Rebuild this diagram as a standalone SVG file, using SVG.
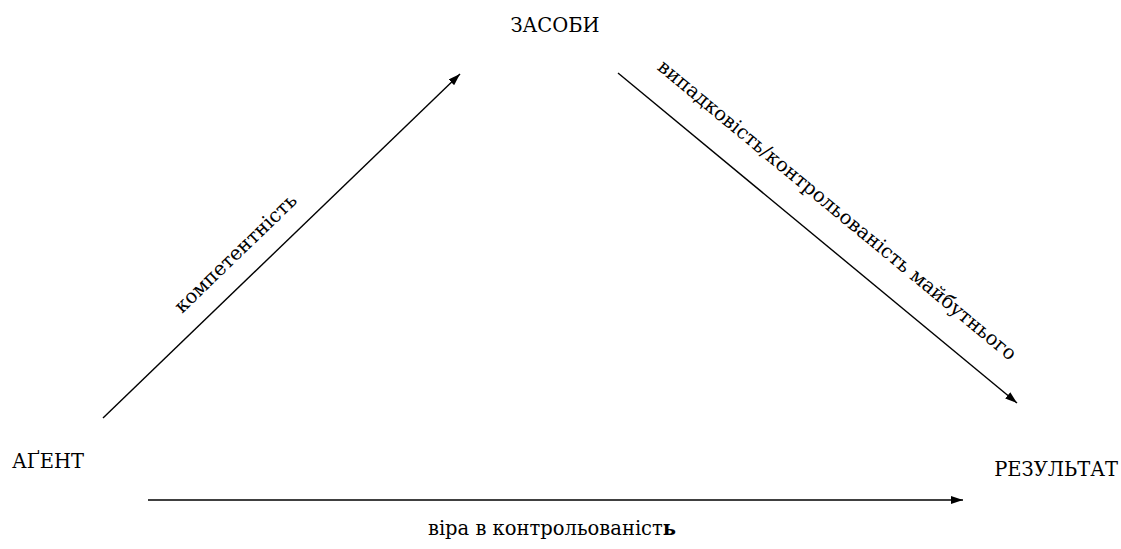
<svg xmlns="http://www.w3.org/2000/svg" width="1121" height="549" viewBox="0 0 1121 549">
<style>
text{font-family:'DejaVu Serif',serif;font-size:19.5px;fill:#000}
.ln{stroke:#000;stroke-width:1.4;fill:none}
</style>
<defs>
<marker id="ah" viewBox="0 0 12 8" refX="12" refY="4" markerWidth="12" markerHeight="8" markerUnits="userSpaceOnUse" orient="auto">
<path d="M0,0 L12,4 L0,8 Z" fill="#000"/>
</marker>
</defs>
<rect width="1121" height="549" fill="#fff"/>
<g id="zasoby"><text x="555" y="32" text-anchor="middle" font-size="20.5">ЗАСОБИ</text></g>
<g id="agent"><text x="12" y="468" font-size="20.5">АҐЕНТ</text></g>
<g id="rezultat"><text x="1118" y="476" text-anchor="end" font-size="20">РЕЗУЛЬТАТ</text></g>
<g id="connectors">
<line class="ln" x1="103" y1="418" x2="460" y2="74" marker-end="url(#ah)"/>
<line class="ln" x1="618" y1="73" x2="1017" y2="403" marker-end="url(#ah)"/>
<line class="ln" x1="148" y1="500" x2="963" y2="500" marker-end="url(#ah)"/>
<text x="240" y="258" text-anchor="middle" transform="rotate(-44 240 258)">компетентність</text>
<text x="833" y="215" text-anchor="middle" transform="rotate(39.6 833 215)">випадковість/контрольованість майбутнього</text>
<text x="552" y="535" text-anchor="middle">віра в контрольованіст<tspan font-weight="bold">ь</tspan></text>
</g>
</svg>
